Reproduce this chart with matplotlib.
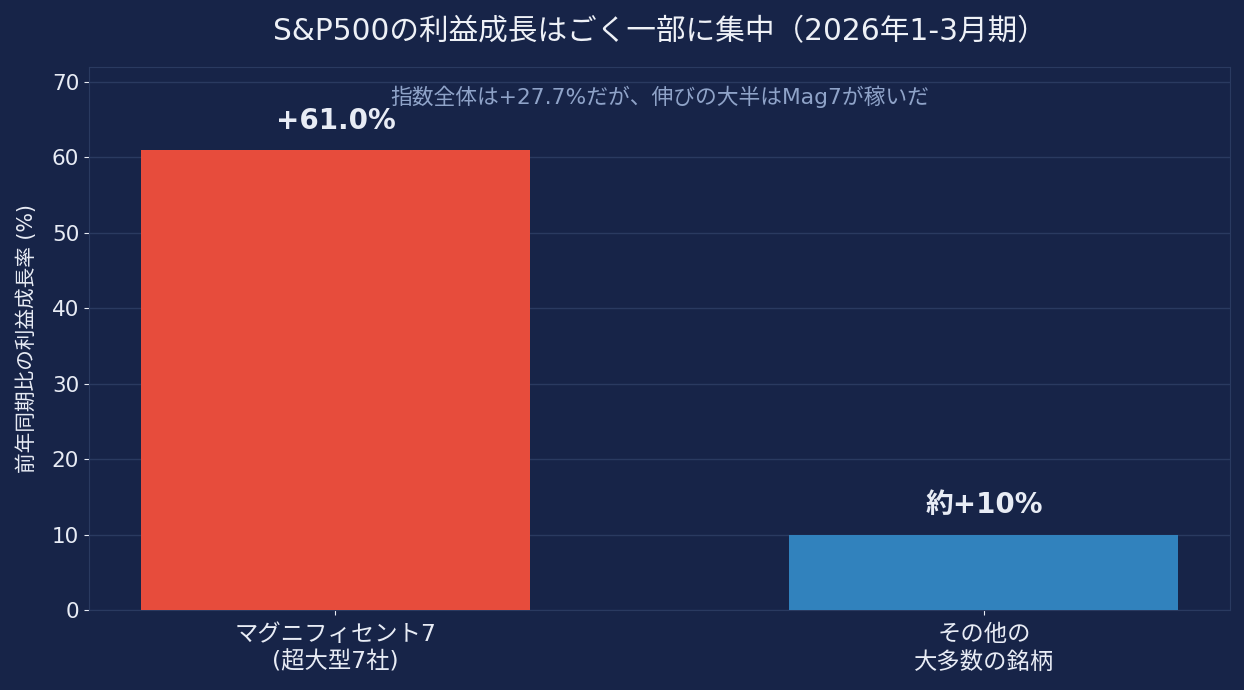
import matplotlib
matplotlib.use('Agg')
import matplotlib.pyplot as plt

# datos
categorias = ['マグニフィセント7\n(超大型7社)', 'その他の\n大多数の銘柄']
crecimiento = [61.0, 10.0]
etiquetas = ['+61.0%', '約+10%']
colores = ['#e74c3c', '#3182bd']

plt.rcParams['font.family'] = ['DejaVu Sans', 'Noto Sans CJK JP']

fondo = '#172448'
fig = plt.figure(figsize=(12.44, 6.9), dpi=100, facecolor=fondo)
ax = fig.add_axes([0.0715, 0.116, 0.9175, 0.787], facecolor=fondo)

x = range(len(categorias))
ax.bar(x, crecimiento, width=0.6, color=colores, zorder=3)
for xi, v, t in zip(x, crecimiento, etiquetas):
    ax.text(xi, v + 2, t, ha='center', va='bottom', fontsize=20,
            fontweight='bold', color='#e8ecf5', zorder=4)

ax.text(0.5, 68, '指数全体は+27.7%だが、伸びの大半はMag7が稼いだ', ha='center',
        va='center', fontsize=15.7, color='#8fa3c8')

ax.set_ylim(0, 72)
ax.set_xticks(list(x))
ax.set_xticklabels(categorias, fontsize=16.8, color='#e8ecf5', linespacing=1.25)
ax.set_yticks(range(0, 71, 10))
ax.tick_params(axis='y', labelsize=15.5, colors='#e8ecf5')
ax.tick_params(axis='x', colors='#e8ecf5', pad=6)
ax.set_ylabel('前年同期比の利益成長率 (%)', fontsize=14.9, color='#e8ecf5',
              labelpad=11)
ax.grid(axis='y', color='#2a3a60', linewidth=1, zorder=0)
for s in ax.spines.values():
    s.set_color('#2a3a60')

ax.set_title('S&P500の利益成長はごく一部に集中（2026年1-3月期）', fontsize=21.3,
             color='#eef1f7', pad=19.5)

fig.savefig('out.png', facecolor=fondo)
